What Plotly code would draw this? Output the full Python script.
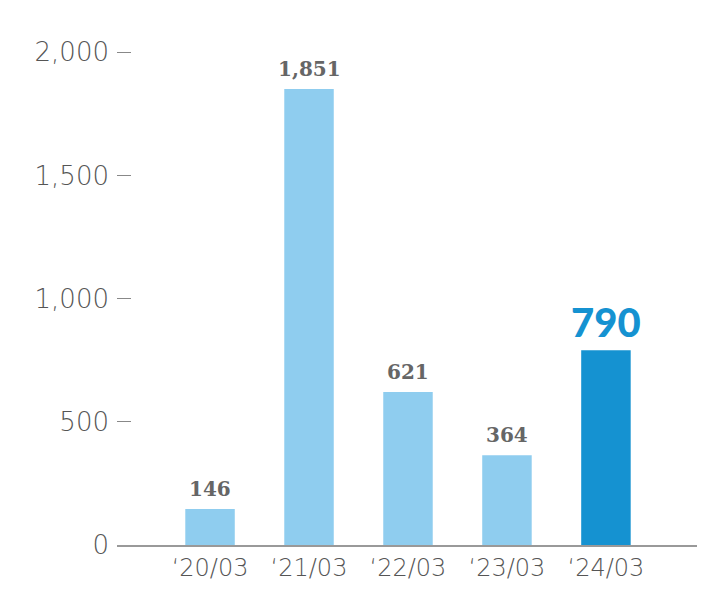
import plotly.graph_objects as go

categories = ["‘20/03", "‘21/03", "‘22/03", "‘23/03", "‘24/03"]
values = [146, 1851, 621, 364, 790]
label_texts = ["146", "1,851", "621", "364", "790"]
bar_colors = ["#8FCDEF", "#8FCDEF", "#8FCDEF", "#8FCDEF", "#1592D1"]
ytick_vals = [0, 500, 1000, 1500, 2000]
ytick_text = ["0", "500", "1,000", "1,500", "2,000"]

fig = go.Figure()
fig.add_trace(go.Bar(
    x=categories, y=values, width=0.5,
    marker=dict(color=bar_colors, line=dict(width=0)),
    hoverinfo="skip",
))

for i, (c, v, t) in enumerate(zip(categories, values, label_texts)):
    last = i == len(categories) - 1
    fig.add_annotation(
        x=c, y=v, text=t, showarrow=False, yanchor="bottom", yshift=2 if last else 6,
        font=dict(
            family="Lato" if last else "DejaVu Serif",
            size=40 if last else 20,
            color="#1592D1" if last else "#666666",
            weight=900 if last else 700,
        ),
    )

fig.update_layout(
    width=720, height=600,
    margin=dict(l=109, r=31, t=43, b=63),
    paper_bgcolor="white", plot_bgcolor="white",
    showlegend=False,
    font=dict(family="DejaVu Sans", color="#555555", size=25, weight=200),
    xaxis=dict(
        range=[-0.94, 4.92], showline=True, linecolor="#999999", linewidth=1.5,
        ticks="", showgrid=False, zeroline=False, fixedrange=True,
        tickfont=dict(family="DejaVu Sans", size=24, color="#555555", weight=200),
    ),
    yaxis=dict(
        range=[0, 2005], tickvals=ytick_vals, ticktext=ytick_text,
        ticks="inside", ticklen=14, tickcolor="#888888", tickwidth=1,
        showline=False, showgrid=False, zeroline=False, ticklabelstandoff=7,
        tickfont=dict(family="DejaVu Sans", size=26, color="#555555", weight=200),
    ),
)

fig.write_html("out.html")
